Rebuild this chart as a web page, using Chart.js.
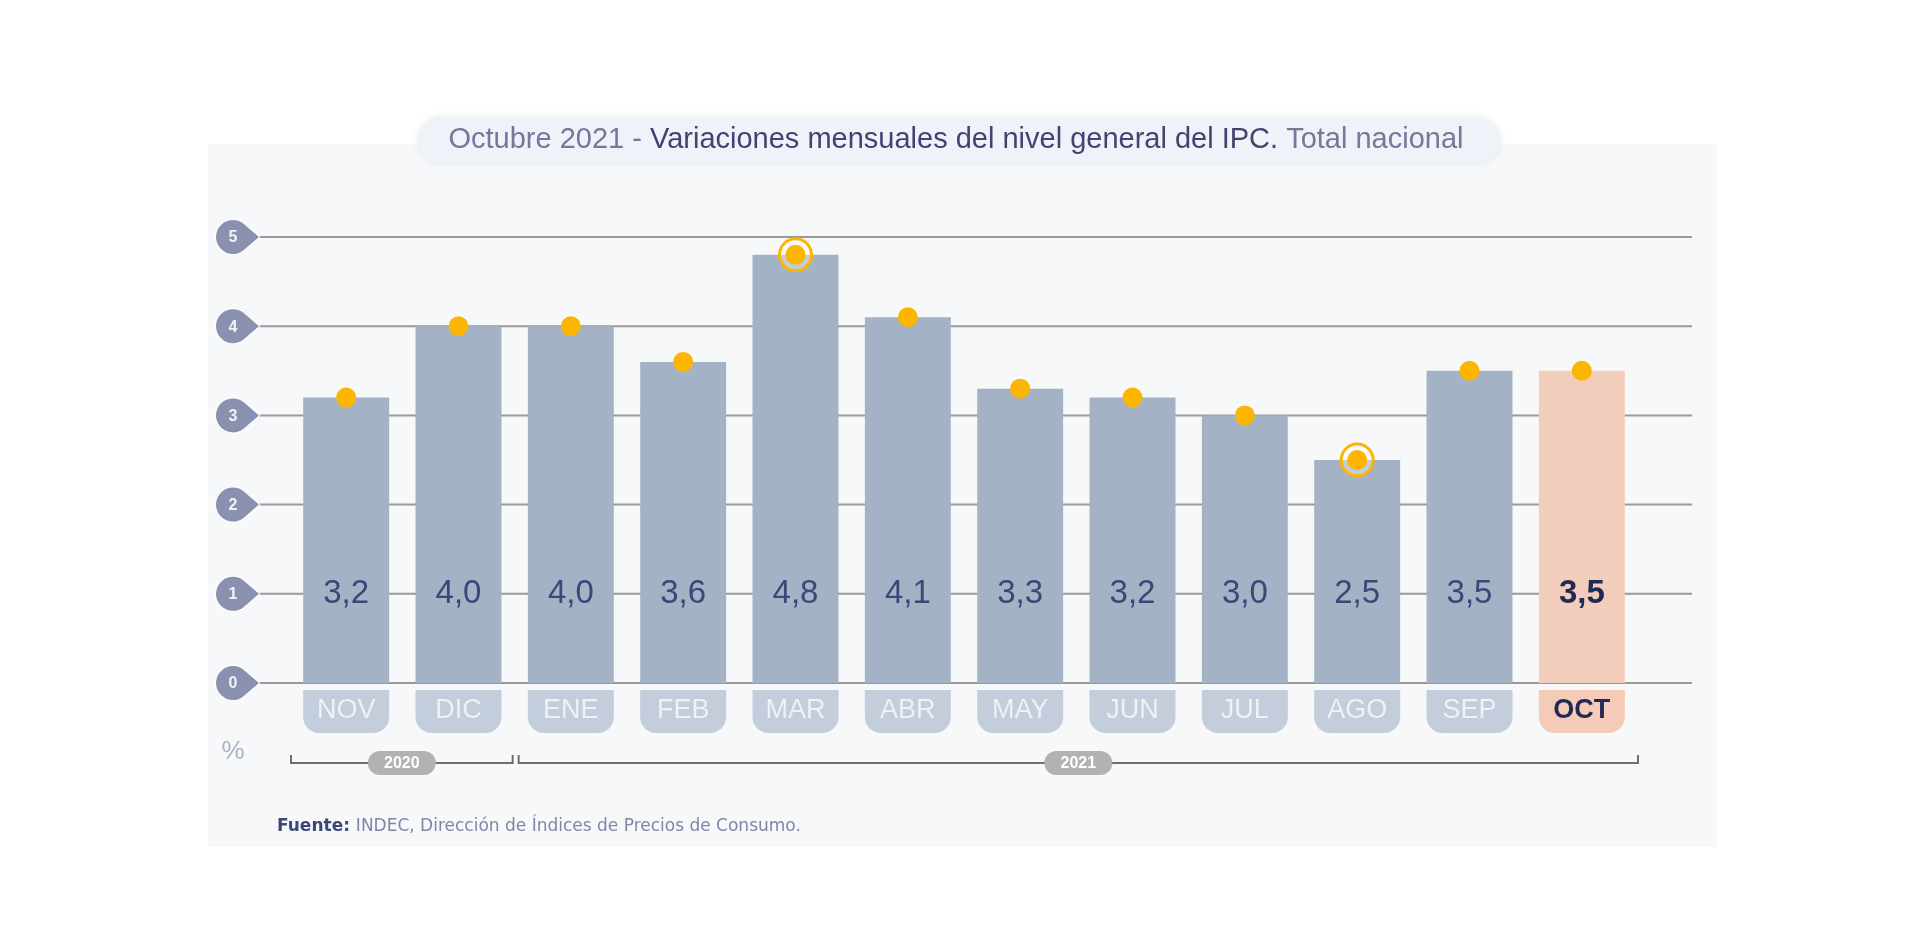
<!DOCTYPE html>
<html>
<head>
<meta charset="utf-8">
<script src="https://cdn.jsdelivr.net/npm/chart.js@4.4.0/dist/chart.umd.min.js"></script>
<style>
  html, body { margin: 0; padding: 0; background: #ffffff; }
  canvas { display: block; }
</style>
</head>
<body>
<canvas id="ipc" width="1920" height="950"></canvas>
<script>
// datos
var months = ["NOV", "DIC", "ENE", "FEB", "MAR", "ABR", "MAY", "JUN", "JUL", "AGO", "SEP", "OCT"];
var values = [3.2, 4.0, 4.0, 3.6, 4.8, 4.1, 3.3, 3.2, 3.0, 2.5, 3.5, 3.5];
var ringValues = [null, null, null, null, 4.8, null, null, null, null, 2.5, null, null];
var yTicks = [0, 1, 2, 3, 4, 5];
var yearLabels = ["2020", "2021"];
var yearFirst = [0, 2];
var yearLast = [1, 11];

var BAR = "#a3b3c5";
var BAR_LAST = "#f3cdbc";
var TAB = "#c3cddb";
var TAB_LAST = "#f5cbb8";
var DOT = "#fcb500";
var SANS = "'Liberation Sans', Arial, Helvetica, sans-serif";

function fmt(v) { return v.toFixed(1).replace(".", ","); }

function roundRect(ctx, x, y, w, h, r) {
  ctx.beginPath();
  ctx.moveTo(x + r, y);
  ctx.lineTo(x + w - r, y);
  ctx.arcTo(x + w, y, x + w, y + r, r);
  ctx.lineTo(x + w, y + h - r);
  ctx.arcTo(x + w, y + h, x + w - r, y + h, r);
  ctx.lineTo(x + r, y + h);
  ctx.arcTo(x, y + h, x, y + h - r, r);
  ctx.lineTo(x, y + r);
  ctx.arcTo(x, y, x + r, y, r);
  ctx.closePath();
}

var decor = {
  id: "decor",
  beforeDatasetsDraw: function(chart) {
    var ctx = chart.ctx;
    var xs = chart.scales.x, ys = chart.scales.y;
    ctx.save();

    // panel
    ctx.fillStyle = "#f7f8fa";
    ctx.fillRect(208, 144, 1509, 703);

    // title pill
    ctx.shadowColor = "rgba(150,160,190,0.25)";
    ctx.shadowBlur = 6;
    ctx.fillStyle = "#eef2f9";
    roundRect(ctx, 418, 117, 1082, 46, 23);
    ctx.fill();
    ctx.shadowBlur = 0;
    ctx.shadowColor = "transparent";

    // title text, three colours
    var parts = [
      ["Octubre 2021 - ", "#75789a"],
      ["Variaciones mensuales del nivel general del IPC. ", "#48416f"],
      ["Total nacional", "#75789a"]
    ];
    ctx.font = "29px " + SANS;
    ctx.textBaseline = "middle";
    ctx.textAlign = "left";
    var total = 0;
    parts.forEach(function(p) { total += ctx.measureText(p[0]).width; });
    var tx = 956 - total / 2;
    parts.forEach(function(p) {
      ctx.fillStyle = p[1];
      ctx.fillText(p[0], tx, 140);
      tx += ctx.measureText(p[0]).width;
    });

    // grid lines + teardrop markers
    yTicks.forEach(function(t) {
      var y = ys.getPixelForValue(t);
      ctx.strokeStyle = "#999999";
      ctx.lineWidth = 2;
      ctx.beginPath();
      ctx.moveTo(250, y);
      ctx.lineTo(1692, y);
      ctx.stroke();

      var cx = 233, r = 17, tip = 259;
      var th = Math.acos(r / (tip - cx));
      ctx.beginPath();
      ctx.arc(cx, y, r, th, 2 * Math.PI - th, false);
      ctx.lineTo(tip, y);
      ctx.closePath();
      ctx.fillStyle = "#8a90b0";
      ctx.strokeStyle = "#ffffff";
      ctx.lineWidth = 2;
      ctx.stroke();
      ctx.fill();
      ctx.fillStyle = "#f2f2f7";
      ctx.font = "bold 16px " + SANS;
      ctx.textAlign = "center";
      ctx.textBaseline = "middle";
      ctx.fillText(String(t), cx, y + 1);
    });

    // month tabs
    var half = 43;
    var y0 = ys.getPixelForValue(0);
    months.forEach(function(m, i) {
      var x = xs.getPixelForTick(i);
      var last = i === months.length - 1;
      ctx.fillStyle = last ? TAB_LAST : TAB;
      var top = y0 + 7, h = 43, r = 16;
      ctx.beginPath();
      ctx.moveTo(x - half, top);
      ctx.lineTo(x + half, top);
      ctx.lineTo(x + half, top + h - r);
      ctx.arcTo(x + half, top + h, x + half - r, top + h, r);
      ctx.lineTo(x - half + r, top + h);
      ctx.arcTo(x - half, top + h, x - half, top + h - r, r);
      ctx.closePath();
      ctx.fill();
      ctx.fillStyle = last ? "#1f2a57" : "#eef1f6";
      ctx.font = (last ? "bold " : "") + "27px " + SANS;
      ctx.textAlign = "center";
      ctx.textBaseline = "middle";
      ctx.fillText(m, x, top + 21);
    });

    // % sign
    ctx.fillStyle = "#aab3c6";
    ctx.font = "26px " + SANS;
    ctx.fillText("%", 233, 752);

    // year brackets
    var pitch = xs.getPixelForTick(1) - xs.getPixelForTick(0);
    yearLabels.forEach(function(lab, k) {
      var x1 = xs.getPixelForTick(yearFirst[k]) - pitch / 2 + (k > 0 ? 4 : 1);
      var x2 = xs.getPixelForTick(yearLast[k]) + pitch / 2 - (k < yearLabels.length - 1 ? 2 : 0);
      var by = 763;
      ctx.strokeStyle = "#6e6e6e";
      ctx.lineWidth = 2;
      ctx.beginPath();
      ctx.moveTo(x1, by - 8);
      ctx.lineTo(x1, by);
      ctx.lineTo(x2, by);
      ctx.lineTo(x2, by - 8);
      ctx.stroke();
      var mid = (x1 + x2) / 2;
      ctx.fillStyle = "#b2b2b2";
      roundRect(ctx, mid - 34, by - 12, 68, 24, 12);
      ctx.fill();
      ctx.fillStyle = "#ffffff";
      ctx.font = "bold 16px " + SANS;
      ctx.textAlign = "center";
      ctx.textBaseline = "middle";
      ctx.fillText(lab, mid, by + 1);
    });

    // source
    ctx.textAlign = "left";
    ctx.textBaseline = "middle";
    ctx.font = "bold 17px 'DejaVu Sans', sans-serif";
    ctx.fillStyle = "#3c4878";
    ctx.fillText("Fuente:", 277, 827);
    var w = ctx.measureText("Fuente: ").width;
    ctx.font = "17px 'DejaVu Sans', sans-serif";
    ctx.fillStyle = "#7e87a8";
    ctx.fillText("INDEC, Dirección de Índices de Precios de Consumo.", 277 + w, 827);

    ctx.restore();
  },
  afterDatasetsDraw: function(chart) {
    var ctx = chart.ctx;
    var xs = chart.scales.x, ys = chart.scales.y;
    ctx.save();
    ctx.textAlign = "center";
    ctx.textBaseline = "middle";
    values.forEach(function(v, i) {
      var last = i === values.length - 1;
      ctx.font = (last ? "bold " : "") + "33px " + SANS;
      ctx.fillStyle = last ? "#1f2a57" : "#3b4877";
      ctx.fillText(fmt(v), xs.getPixelForTick(i), ys.getPixelForValue(1));
    });
    ctx.restore();
  }
};

new Chart(document.getElementById("ipc").getContext("2d"), {
  data: {
    labels: months,
    datasets: [
      {
        type: "line",
        data: values,
        showLine: false,
        pointRadius: 10,
        pointBackgroundColor: DOT,
        pointBorderWidth: 0,
        order: 1
      },
      {
        type: "line",
        data: ringValues,
        showLine: false,
        pointRadius: 16,
        pointBackgroundColor: "rgba(255,255,255,0.35)",
        pointBorderColor: DOT,
        pointBorderWidth: 3,
        order: 2
      },
      {
        type: "bar",
        data: values,
        backgroundColor: values.map(function(v, i) { return i === values.length - 1 ? BAR_LAST : BAR; }),
        barPercentage: 0.765,
        categoryPercentage: 1,
        order: 3
      }
    ]
  },
  options: {
    responsive: false,
    animation: false,
    events: [],
    layout: { padding: { left: 290, right: 282, top: 237, bottom: 267 } },
    plugins: { legend: { display: false }, tooltip: { enabled: false } },
    scales: {
      x: { display: false, offset: true },
      y: { display: false, min: 0, max: 5 }
    }
  },
  plugins: [decor]
});
</script>
</body>
</html>
